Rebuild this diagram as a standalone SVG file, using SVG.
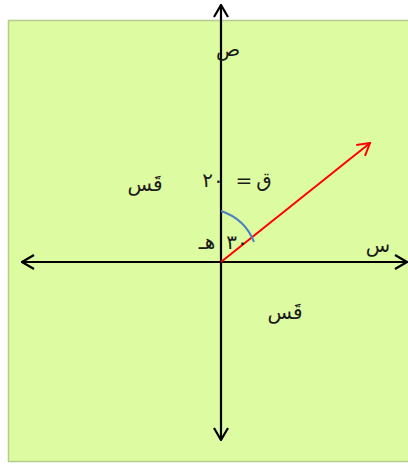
<svg xmlns="http://www.w3.org/2000/svg" width="408" height="464" viewBox="0 0 408 464">
<style>
.ax{stroke:#000;stroke-width:2.2;fill:none}
.t{font-family:"DejaVu Sans","Noto Sans",sans-serif;font-size:20px;fill:#1a1a1a}
</style>
<defs>
<marker id="ah" viewBox="0 0 14 16" refX="13" refY="8" markerWidth="14" markerHeight="16" markerUnits="userSpaceOnUse" orient="auto">
<path d="M1,1 L13,8 L1,15" fill="none" stroke="#000" stroke-width="2.2"/>
</marker>
<marker id="ahr" viewBox="0 0 14 16" refX="13" refY="8" markerWidth="14" markerHeight="16" markerUnits="userSpaceOnUse" orient="auto">
<path d="M1,1 L13,8 L1,15" fill="none" stroke="#f00" stroke-width="2"/>
</marker>
</defs>
<rect id="bg" x="8.5" y="20.5" width="402" height="441" fill="#ddfba0" stroke="#b5cc8a" stroke-width="1.5"/>
<g id="connectors">
<line class="ax" x1="221" y1="262" x2="221" y2="5" marker-end="url(#ah)"/>
<line class="ax" x1="221" y1="262" x2="221" y2="440" marker-end="url(#ah)"/>
<line class="ax" x1="221" y1="262" x2="407" y2="262" marker-end="url(#ah)"/>
<line class="ax" x1="221" y1="262" x2="22" y2="262" marker-end="url(#ah)"/>
<line x1="221" y1="262" x2="370" y2="143" stroke="#f00" stroke-width="2" marker-end="url(#ahr)"/>
<path d="M221,211 Q245,219 254,242" fill="none" stroke="#4a7fc4" stroke-width="2"/>
</g>
<g id="labels">
<text class="t" x="228" y="56" text-anchor="middle">ص</text>
<text class="t" x="378" y="252" text-anchor="middle">س</text>
<text class="t" x="145" y="191" text-anchor="middle">قَس</text>
<text class="t" x="285" y="319" text-anchor="middle">قَس</text>
<text class="t" x="264" y="187" text-anchor="middle">ق</text>
<text class="t" x="244" y="187" text-anchor="middle">=</text>
<text class="t" x="213" y="187" text-anchor="middle">٢٠</text>
<text class="t" x="237" y="249" text-anchor="middle">٣٠</text>
<text class="t" x="207" y="249" text-anchor="middle">هـ</text>
</g>
</svg>
